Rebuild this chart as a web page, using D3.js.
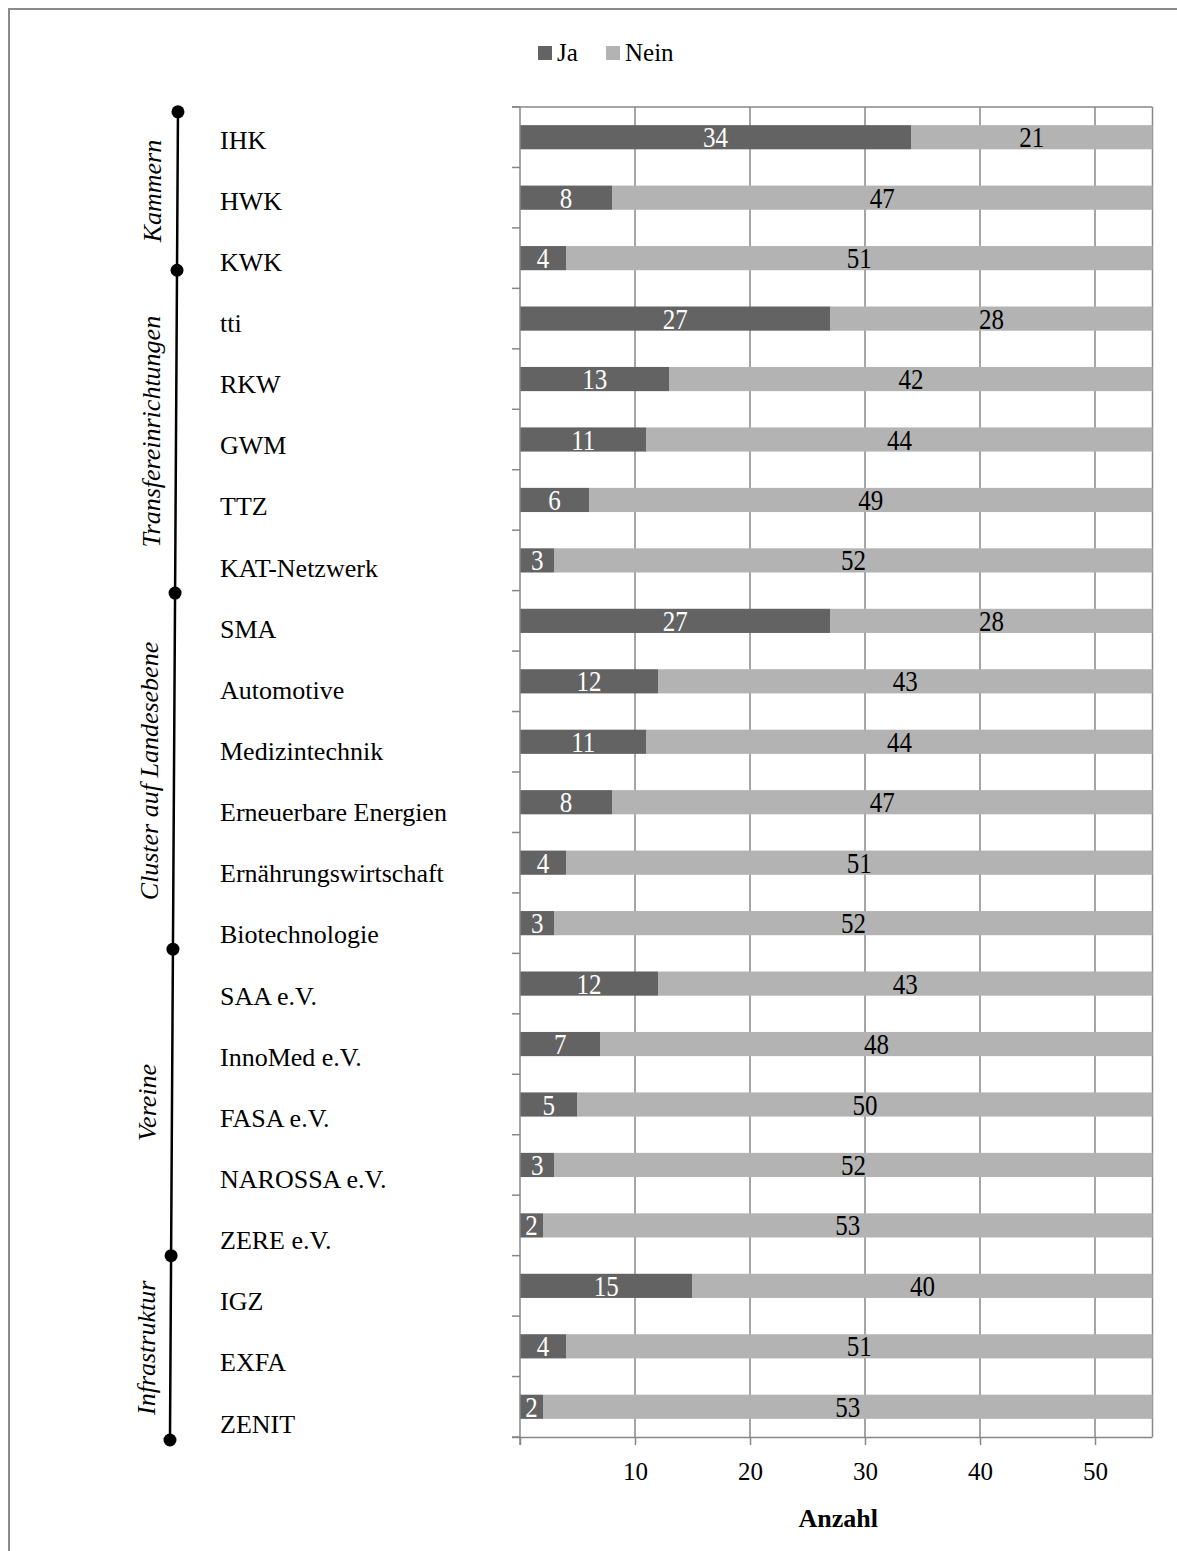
<!DOCTYPE html>
<html>
<head>
<meta charset="utf-8">
<script src="https://cdn.jsdelivr.net/npm/d3@7"></script>
<style>
  html, body { margin: 0; padding: 0; background: #fff; }
  svg { display: block; }
  text { font-family: "Liberation Serif", "Times New Roman", serif; }
</style>
</head>
<body>
<script>
const categories = ["IHK","HWK","KWK","tti","RKW","GWM","TTZ","KAT-Netzwerk","SMA","Automotive","Medizintechnik","Erneuerbare Energien","Ernährungswirtschaft","Biotechnologie","SAA e.V.","InnoMed e.V.","FASA e.V.","NAROSSA e.V.","ZERE e.V.","IGZ","EXFA","ZENIT"];
const ja   = [34,8,4,27,13,11,6,3,27,12,11,8,4,3,12,7,5,3,2,15,4,2];
const nein = [21,47,51,28,42,44,49,52,28,43,44,47,51,52,43,48,50,52,53,40,51,53];
const seriesNames = ["Ja","Nein"];
const xTicks = [10,20,30,40,50];
const groupNames = ["Kammern","Transfereinrichtungen","Cluster auf Landesebene","Vereine","Infrastruktur"];
// group boundaries in category-index units (as drawn in the reference)
const groupBounds = [0.08, 2.7, 8.04, 13.93, 19.0, 22.05];

const W = 1177, H = 1551;
const colJa = "#636363", colNein = "#b3b3b3", gridCol = "#878787";

const svg = d3.select("body").append("svg").attr("width", W).attr("height", H);

// outer frame (only left/top visible in reference)
svg.append("rect").attr("x", 9).attr("y", 9).attr("width", 1400).attr("height", 1800)
  .attr("fill", "none").attr("stroke", "#8a8a8a").attr("stroke-width", 2);

const pLeft = 520, pRight = 1152.5, pTop = 107, pBottom = 1437;
const x = d3.scaleLinear().domain([0,55]).range([pLeft, pRight]);
const y = d3.scaleBand().domain(categories).range([pTop, pBottom]).paddingInner(0.6).paddingOuter(0.3);
const yIdx = d3.scaleLinear().domain([0,22]).range([pTop, pBottom]);
// category text labels sit on a slightly wider pitch than the bars in the reference
const yLab = d3.scaleLinear().domain([0, categories.length - 1]).range([140, 1424]);

// gridlines
svg.append("g").selectAll("line").data(xTicks).join("line")
  .attr("x1", d => x(d)).attr("x2", d => x(d)).attr("y1", pTop).attr("y2", pBottom)
  .attr("stroke", gridCol).attr("stroke-width", 1.5);
// plot border top/right
svg.append("line").attr("x1", pLeft - 8).attr("x2", pRight).attr("y1", pTop).attr("y2", pTop)
  .attr("stroke", gridCol).attr("stroke-width", 1.5);
svg.append("line").attr("x1", pRight).attr("x2", pRight).attr("y1", pTop).attr("y2", pBottom)
  .attr("stroke", gridCol).attr("stroke-width", 1.5);

const data = categories.map((c,i) => ({c, ja: ja[i], nein: nein[i]}));

// bars
const rowG = svg.append("g").selectAll("g").data(data).join("g");
rowG.append("rect").attr("x", x(0)).attr("y", d => y(d.c)).attr("height", y.bandwidth())
  .attr("width", d => x(d.ja) - x(0)).attr("fill", colJa);
rowG.append("rect").attr("x", d => x(d.ja)).attr("y", d => y(d.c)).attr("height", y.bandwidth())
  .attr("width", d => x(d.ja + d.nein) - x(d.ja)).attr("fill", colNein);
rowG.append("text")
  .attr("transform", d => `translate(${(x(0) + x(d.ja)) / 2},${y(d.c) + y.bandwidth()/2 + 10}) scale(1,1.15)`)
  .attr("text-anchor", "middle").attr("fill", "#fff").attr("font-size", 25)
  .text(d => d.ja);
rowG.append("text")
  .attr("transform", d => `translate(${(x(d.ja) + x(d.ja + d.nein)) / 2},${y(d.c) + y.bandwidth()/2 + 10}) scale(1,1.15)`)
  .attr("text-anchor", "middle").attr("fill", "#000").attr("font-size", 25)
  .text(d => d.nein);

// y axis (ticks at band boundaries)
svg.append("line").attr("x1", pLeft).attr("x2", pLeft).attr("y1", pTop).attr("y2", pBottom + 8)
  .attr("stroke", gridCol).attr("stroke-width", 1.5);
svg.append("g").selectAll("line").data(d3.range(23)).join("line")
  .attr("x1", pLeft - 8).attr("x2", pLeft).attr("y1", d => yIdx(d)).attr("y2", d => yIdx(d))
  .attr("stroke", gridCol).attr("stroke-width", 1.5);

// x axis
const xAxis = d3.axisBottom(x).tickValues([0].concat(xTicks)).tickSize(8).tickPadding(17)
  .tickFormat(d => d === 0 ? "" : d);
const gx = svg.append("g").attr("transform", `translate(0,${pBottom})`).call(xAxis);
gx.select(".domain").attr("stroke", gridCol).attr("stroke-width", 1.5)
  .attr("d", `M${pLeft - 8},0.5H${pRight}`);
gx.selectAll(".tick line").attr("stroke", gridCol).attr("stroke-width", 1.5);
gx.selectAll(".tick text").attr("font-size", 25).attr("fill", "#000")
  .style("font-family", '"Liberation Serif", serif');
svg.append("text").attr("x", (pLeft + pRight) / 2 + 2).attr("y", 1527).attr("text-anchor", "middle")
  .attr("font-size", 26).attr("font-weight", "bold").text("Anzahl");

// category labels
svg.append("g").selectAll("text").data(categories).join("text")
  .attr("x", 220).attr("y", (d, i) => yLab(i)).attr("dy", "0.33em")
  .attr("font-size", 26).attr("fill", "#000").text(d => d);

// legend
const leg = svg.append("g");
const legX = [538, 606];
seriesNames.forEach((s, i) => {
  leg.append("rect").attr("x", legX[i]).attr("y", 46).attr("width", 14).attr("height", 14)
    .attr("fill", i === 0 ? colJa : colNein);
  leg.append("text").attr("x", legX[i] + 19).attr("y", 61).attr("font-size", 25).text(s);
});

// group bracket line
const lineX = d3.scaleLinear().domain([0,22]).range([178,170]);
svg.append("path")
  .attr("d", d3.line()(groupBounds.map(b => [lineX(b), yIdx(b)])))
  .attr("fill", "none").attr("stroke", "#000").attr("stroke-width", 2.5);
svg.append("g").selectAll("circle").data(groupBounds).join("circle")
  .attr("cx", b => lineX(b)).attr("cy", b => yIdx(b)).attr("r", 6.5).attr("fill", "#000");
svg.append("g").selectAll("text").data(groupNames).join("text")
  .attr("transform", (g, i) => {
    const m = (groupBounds[i] + groupBounds[i+1]) / 2;
    return `translate(${lineX(m) - 16},${yIdx(m)}) rotate(-90)`;
  })
  .attr("text-anchor", "middle").attr("font-size", 26).attr("font-style", "italic").text(g => g);
</script>
</body>
</html>
